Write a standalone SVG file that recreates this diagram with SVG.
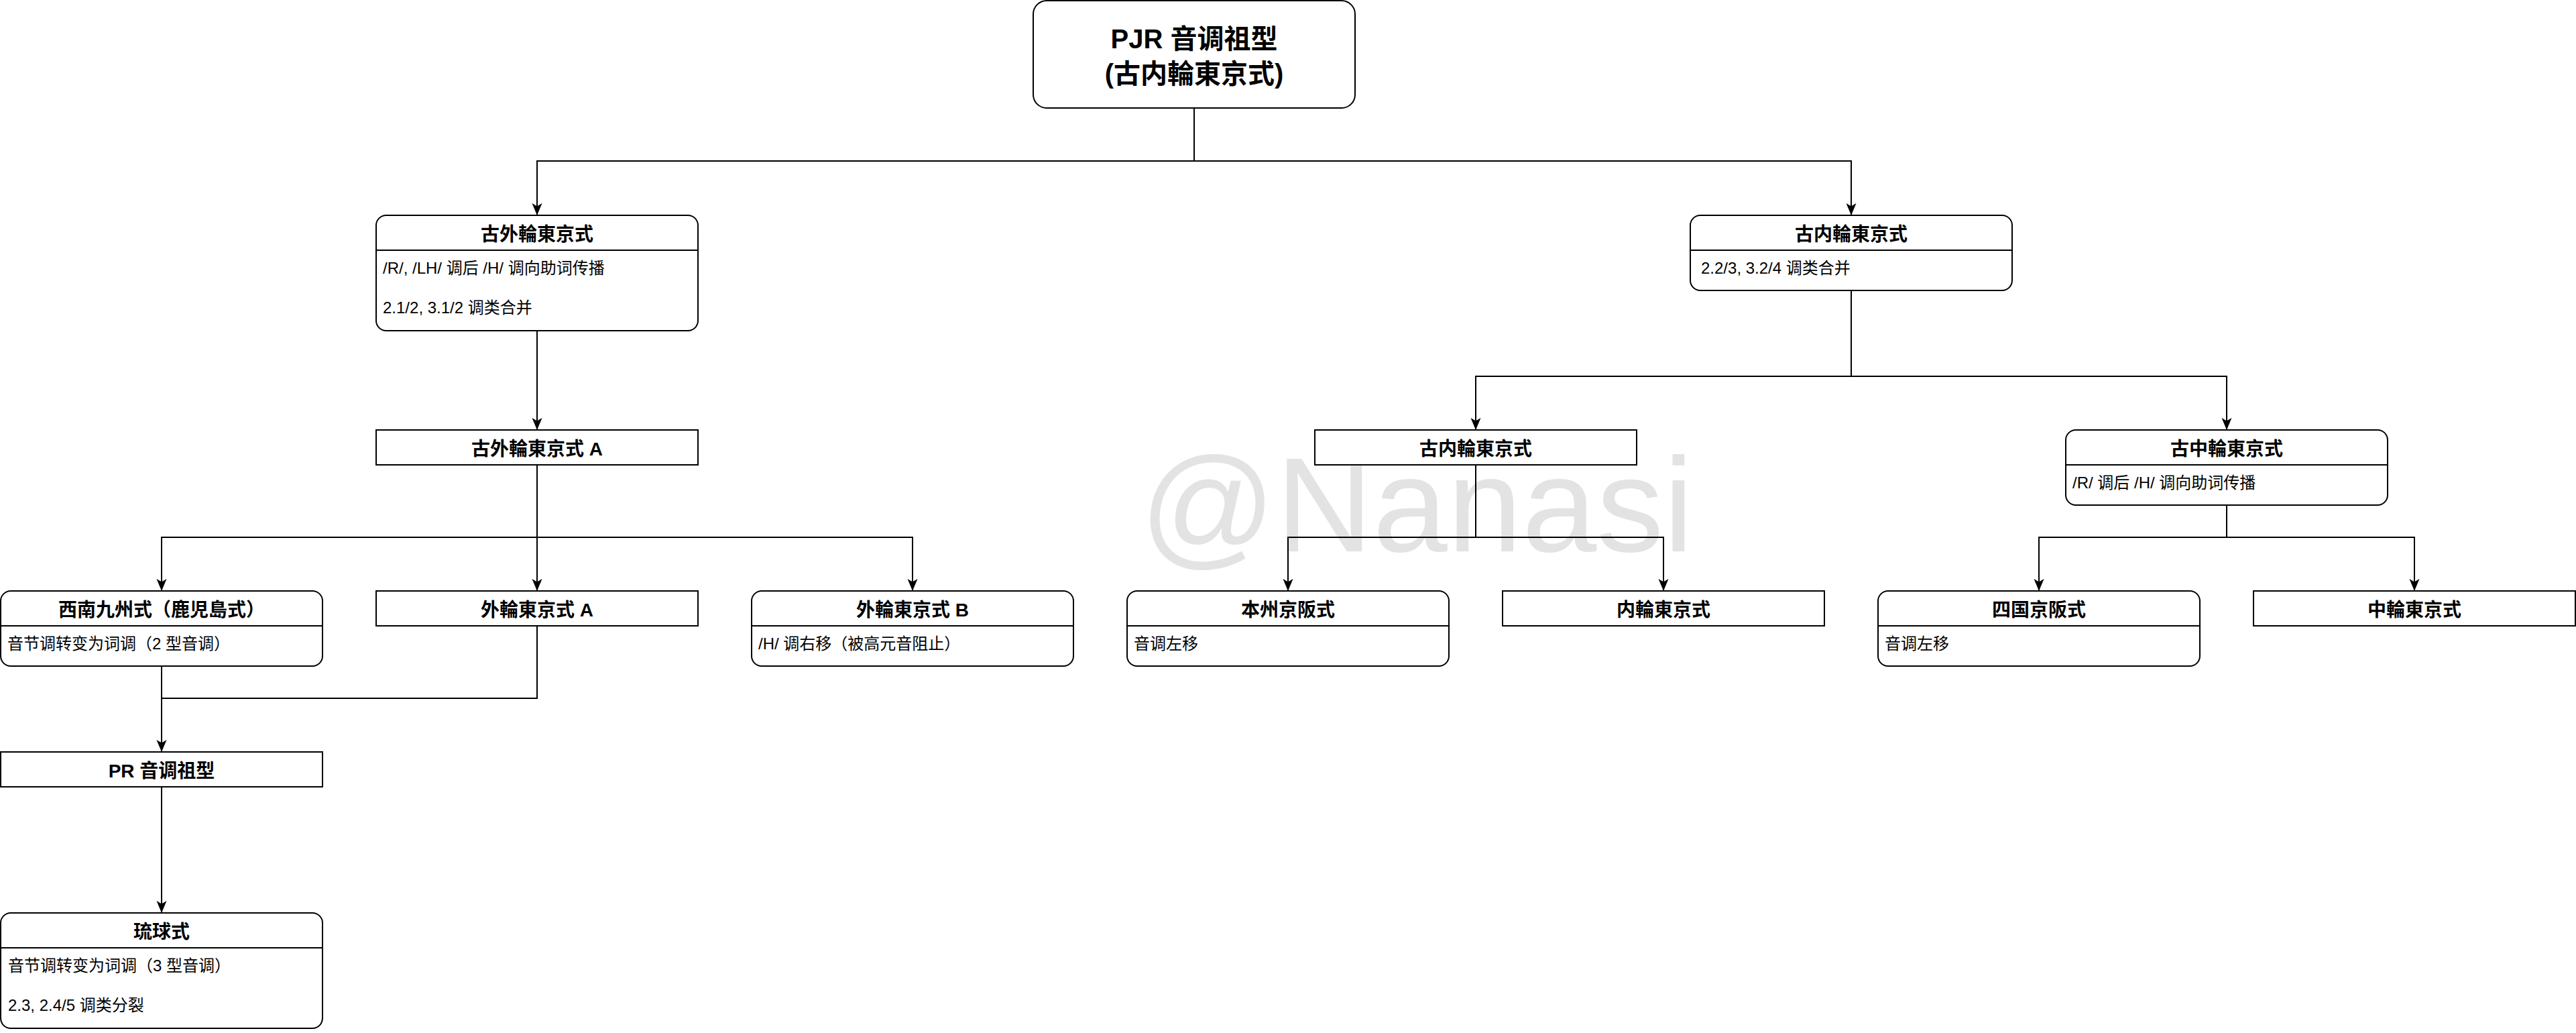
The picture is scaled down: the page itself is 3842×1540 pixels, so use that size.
<svg xmlns="http://www.w3.org/2000/svg" width="3842" height="1540" viewBox="0 0 3842 1540">
<style>
.box{fill:#fff;stroke:#000;stroke-width:2}
.sep{stroke:#000;stroke-width:2}
.hd{font-family:"Liberation Sans","Noto Sans CJK SC",sans-serif;font-size:28px;font-weight:bold;text-anchor:middle;fill:#000}
.tt{font-family:"Liberation Sans","Noto Sans CJK SC",sans-serif;font-size:40px;font-weight:bold;text-anchor:middle;fill:#000}
.bd{font-family:"Liberation Sans","Noto Sans CJK SC",sans-serif;font-size:24px;fill:#000}
.wm{font-family:"Liberation Sans",Arial,sans-serif;font-size:200px;fill:#e3e3e3}
.edge{fill:none;stroke:#000;stroke-width:2}
</style>
<defs>
<marker id="arr" markerUnits="userSpaceOnUse" markerWidth="20" markerHeight="18" refX="18" refY="8" orient="auto">
<path d="M0,0.5 L18,8 L0,15.5 L4.5,8 Z" fill="#000"/>
</marker>
</defs>
<rect width="3842" height="1540" fill="#fff"/>
<text class="wm" x="1700" y="822">@Nanasi</text>
<g id="connectors">
<path class="edge" d="M1781,161 V240 H801 V321" marker-end="url(#arr)"/>
<path class="edge" d="M1781,161 V240 H2761 V321" marker-end="url(#arr)"/>
<path class="edge" d="M801,493 V641" marker-end="url(#arr)"/>
<path class="edge" d="M801,693 V801 H241 V881" marker-end="url(#arr)"/>
<path class="edge" d="M801,693 V881" marker-end="url(#arr)"/>
<path class="edge" d="M801,801 H1361 V881" marker-end="url(#arr)"/>
<path class="edge" d="M241,993 V1121" marker-end="url(#arr)"/>
<path class="edge" d="M801,933 V1041 H241"/>
<path class="edge" d="M241,1173 V1361" marker-end="url(#arr)"/>
<path class="edge" d="M2761,433 V561 H2201 V641" marker-end="url(#arr)"/>
<path class="edge" d="M2761,561 H3321 V641" marker-end="url(#arr)"/>
<path class="edge" d="M2201,693 V801 H1921 V881" marker-end="url(#arr)"/>
<path class="edge" d="M2201,801 H2481 V881" marker-end="url(#arr)"/>
<path class="edge" d="M3321,753 V801 H3041 V881" marker-end="url(#arr)"/>
<path class="edge" d="M3321,801 H3601 V881" marker-end="url(#arr)"/>
</g>
<g id="pjr">
<rect class="box" x="1541" y="1" width="480" height="160" rx="20"/>
<text class="tt" x="1781" y="72">PJR 音调祖型</text>
<text class="tt" x="1781" y="124">(古内輪東京式)</text>
</g>
<g id="ko-sotowa">
<rect class="box" x="561" y="321" width="480" height="172" rx="15"/>
<line class="sep" x1="561" y1="373" x2="1041" y2="373"/>
<text class="hd" x="801" y="359">古外輪東京式</text>
<text class="bd" x="571" y="408">/R/, /LH/ 调后 /H/ 调向助词传播</text>
<text class="bd" x="571" y="467">2.1/2, 3.1/2 调类合并</text>
</g>
<g id="ko-uchiwa">
<rect class="box" x="2521" y="321" width="480" height="112" rx="15"/>
<line class="sep" x1="2521" y1="373" x2="3001" y2="373"/>
<text class="hd" x="2761" y="359">古内輪東京式</text>
<text class="bd" x="2537" y="408">2.2/3, 3.2/4 调类合并</text>
</g>
<g id="ko-sotowa-a">
<rect class="box" x="561" y="641" width="480" height="52"/>
<text class="hd" x="801" y="679">古外輪東京式 A</text>
</g>
<g id="seinan">
<rect class="box" x="1" y="881" width="480" height="112" rx="15"/>
<line class="sep" x1="1" y1="933" x2="481" y2="933"/>
<text class="hd" x="241" y="919">西南九州式（鹿児島式）</text>
<text class="bd" x="11" y="968">音节调转变为词调（2 型音调）</text>
</g>
<g id="sotowa-a">
<rect class="box" x="561" y="881" width="480" height="52"/>
<text class="hd" x="801" y="919">外輪東京式 A</text>
</g>
<g id="sotowa-b">
<rect class="box" x="1121" y="881" width="480" height="112" rx="15"/>
<line class="sep" x1="1121" y1="933" x2="1601" y2="933"/>
<text class="hd" x="1361" y="919">外輪東京式 B</text>
<text class="bd" x="1131" y="968">/H/ 调右移（被高元音阻止）</text>
</g>
<g id="pr">
<rect class="box" x="1" y="1121" width="480" height="52"/>
<text class="hd" x="241" y="1159">PR 音调祖型</text>
</g>
<g id="ryukyu">
<rect class="box" x="1" y="1361" width="480" height="172" rx="15"/>
<line class="sep" x1="1" y1="1413" x2="481" y2="1413"/>
<text class="hd" x="241" y="1399">琉球式</text>
<text class="bd" x="12" y="1448">音节调转变为词调（3 型音调）</text>
<text class="bd" x="12" y="1507">2.3, 2.4/5 调类分裂</text>
</g>
<g id="ko-uchiwa-2">
<rect class="box" x="1961" y="641" width="480" height="52"/>
<text class="hd" x="2201" y="679">古内輪東京式</text>
</g>
<g id="honshu-keihan">
<rect class="box" x="1681" y="881" width="480" height="112" rx="15"/>
<line class="sep" x1="1681" y1="933" x2="2161" y2="933"/>
<text class="hd" x="1921" y="919">本州京阪式</text>
<text class="bd" x="1691" y="968">音调左移</text>
</g>
<g id="uchiwa">
<rect class="box" x="2241" y="881" width="480" height="52"/>
<text class="hd" x="2481" y="919">内輪東京式</text>
</g>
<g id="ko-nakawa">
<rect class="box" x="3081" y="641" width="480" height="112" rx="15"/>
<line class="sep" x1="3081" y1="693" x2="3561" y2="693"/>
<text class="hd" x="3321" y="679">古中輪東京式</text>
<text class="bd" x="3091" y="728">/R/ 调后 /H/ 调向助词传播</text>
</g>
<g id="shikoku-keihan">
<rect class="box" x="2801" y="881" width="480" height="112" rx="15"/>
<line class="sep" x1="2801" y1="933" x2="3281" y2="933"/>
<text class="hd" x="3041" y="919">四国京阪式</text>
<text class="bd" x="2811" y="968">音调左移</text>
</g>
<g id="nakawa">
<rect class="box" x="3361" y="881" width="480" height="52"/>
<text class="hd" x="3601" y="919">中輪東京式</text>
</g>
</svg>
